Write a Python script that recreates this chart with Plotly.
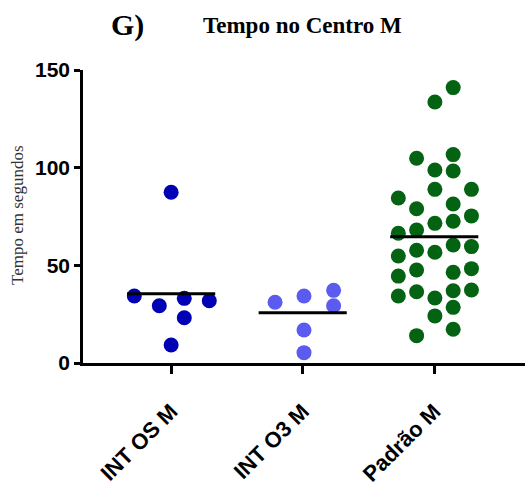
import plotly.graph_objects as go
import numpy as np

categories = ["INT OS M", "INT O3 M", "Padrão M"]

int_os_values = [87.4, 34.3, 29.3, 33.1, 31.9, 23.2, 9.2]
int_os_offsets = [0.0, -0.28, -0.09, 0.10, 0.29, 0.10, 0.0]

int_o3_values = [31.1, 34.3, 37.2, 29.3, 16.9, 5.3]
int_o3_offsets = [-0.21, 0.01, 0.235, 0.235, 0.01, 0.01]

padrao_values = [141.0, 133.6, 104.8, 106.7, 98.8, 98.3, 88.9, 88.9, 84.5, 79.0,
                 81.4, 71.5, 72.6, 75.3, 66.4, 68.1, 60.4, 59.6, 54.8, 57.7,
                 56.7, 44.5, 47.6, 46.4, 48.3, 34.3, 36.5, 33.3, 37.0, 37.4,
                 24.1, 28.5, 14.0, 17.3]
padrao_slots = [1, 0, -1, 1, 0, 1, 0, 2, -2, -1,
                1, 0, 1, 2, -2, -1, 1, 2, -2, -1,
                0, -2, -1, 1, 2, -2, -1, 0, 1, 2,
                0, 1, -1, 1]
padrao_offsets = [0.005 + 0.139 * s for s in padrao_slots]

colors = ["#0000B4", "#5B5BF0", "#036312"]

groups = [
    (int_os_values, int_os_offsets),
    (int_o3_values, int_o3_offsets),
    (padrao_values, padrao_offsets),
]

L, R, T, B = 83, 0, 70, 122
W, H = 525, 485

fig = go.Figure()
for i, (vals, offs) in enumerate(groups):
    xs = [i + o for o in offs]
    fig.add_trace(go.Scatter(
        x=xs, y=vals, mode="markers",
        marker=dict(size=15, color=colors[i], line=dict(width=0)),
        cliponaxis=False, showlegend=False, hoverinfo="y",
    ))
for i, (vals, offs) in enumerate(groups):
    m = float(np.mean(vals))
    fig.add_trace(go.Scatter(
        x=[i - 0.335, i + 0.335], y=[m, m], mode="lines",
        line=dict(color="black", width=3), cliponaxis=False,
        showlegend=False, hoverinfo="skip",
    ))

serif = "Liberation Serif, Times New Roman, serif"
sans = "Liberation Sans, Arial, sans-serif"

fig.update_layout(
    width=W, height=H,
    margin=dict(l=L, r=R, t=T, b=B),
    paper_bgcolor="white", plot_bgcolor="white",
    font=dict(family=sans, color="black"),
    xaxis=dict(
        range=[-0.67, 2.69], tickvals=[0, 1, 2], ticktext=categories,
        tickangle=-45, showgrid=False, zeroline=False,
        showline=True, linecolor="black", linewidth=2.5,
        ticks="outside", ticklen=8, tickwidth=2.5, tickcolor="black",
        ticklabelstandoff=16,
        tickfont=dict(family=sans, size=22, color="black", weight="bold"),
    ),
    yaxis=dict(
        range=[0, 150], tickvals=[0, 50, 100, 150],
        showgrid=False, zeroline=False,
        showline=True, linecolor="black", linewidth=2.5,
        ticks="outside", ticklen=6, tickwidth=2.5, tickcolor="black",
        tickfont=dict(family=sans, size=21, color="black", weight="bold"),
    ),
)

pw = W - L - R
ph = H - T - B


def px_ann(text, x, y, size, family, angle=0, color="black"):
    fig.add_annotation(
        text=text, x=(x - L) / pw, y=(H - B - y) / ph,
        xref="paper", yref="paper", showarrow=False,
        xanchor="center", yanchor="middle", textangle=angle,
        font=dict(family=family, size=size, color=color),
    )


px_ann("<b>G)</b>", 127, 25, 30, serif)
px_ann("<b>Tempo no Centro M</b>", 302, 26, 23, serif)
px_ann("Tempo em segundos", 17, 215, 17, serif, angle=-90, color="#333333")

fig.write_html("out.html")
